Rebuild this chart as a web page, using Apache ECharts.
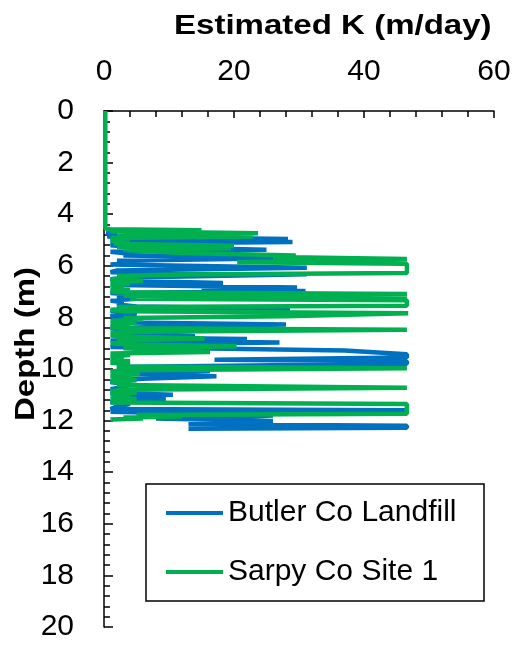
<!DOCTYPE html>
<html>
<head>
<meta charset="utf-8">
<script src="https://cdn.jsdelivr.net/npm/echarts@6/dist/echarts.min.js"></script>
<style>
  html, body { margin: 0; padding: 0; background: #fff; }
  #chart { width: 527px; height: 648px; }
</style>
</head>
<body>
<div id="chart"></div>
<script>
// values: K in m/day, depth in m
var seriesNames = ['Butler Co Landfill', 'Sarpy Co Site 1'];
var xTicks = [0, 20, 40, 60];
var yTicks = [0, 2, 4, 6, 8, 10, 12, 14, 16, 18, 20];

var butlerDepth = [4.72, 4.78, 4.86, 4.96, 5.02, 5.08, 5.14, 5.2, 5.26, 5.38, 5.46, 5.53, 5.6, 5.7,
  5.8, 5.88, 5.95, 6.08, 6.18, 6.25, 6.33, 6.45, 6.52, 6.58, 6.67, 6.74, 6.84, 6.92, 6.98, 7.05,
  7.12, 7.2, 7.28, 7.35, 7.42, 7.5, 7.58, 7.66, 7.74, 7.8, 7.88, 7.94, 8.0, 8.1, 8.2, 8.28, 8.33,
  8.42, 8.5, 8.6, 8.72, 8.78, 8.84, 8.9, 8.97, 9.04, 9.1, 9.15, 9.28, 9.43, 9.55, 9.64, 9.7, 9.8,
  9.92, 10.0, 10.08, 10.18, 10.28, 10.38, 10.44, 10.5, 10.6, 10.7, 10.78, 10.85, 10.92, 11.0,
  11.07, 11.16, 11.22, 11.28, 11.36, 11.45, 11.55, 11.6, 11.66, 11.8, 11.87, 11.92, 12.02, 12.14,
  12.2, 12.28, 12.32];
var butlerK = [0.3, 2, 0.5, 28.3, 1, 29, 3, 1, 4, 25, 1, 4, 3, 29.7,
  2, 5, 1, 31.2, 2, 1, 31.2, 4, 1, 3, 18.3, 2, 29.7, 15, 31, 1,
  4, 2, 5, 1, 3, 2, 5, 28.6, 1, 4, 5, 1, 2, 5, 4, 28, 13,
  1, 4, 3, 14, 2, 22, 1, 27, 2, 4, 1, 37, 46.6, 46.6, 17, 46.6, 46.6,
  2, 4, 16.3, 3, 17.3, 6, 2, 1, 4, 3, 1, 5, 1, 10.6,
  2, 9.5, 3, 1, 4, 2, 1, 46.3, 1, 26, 18.6, 8, 26, 13,
  46.6, 46.6, 13];

var sarpyDepth = [0, 4.55, 4.58, 4.62, 4.66, 4.74, 4.8, 4.86, 4.92, 4.97, 5.02, 5.08, 5.15, 5.22,
  5.27, 5.32, 5.38, 5.5, 5.6, 5.66, 5.74, 5.86, 5.92, 6.28, 6.34, 6.4, 6.46, 6.52, 6.58, 6.64,
  6.7, 6.76, 6.82, 6.88, 6.94, 7.0, 7.03, 7.09, 7.16, 7.22, 7.28, 7.34, 7.55, 7.6, 7.65, 7.7,
  7.76, 7.84, 7.96, 8.02, 8.08, 8.14, 8.2, 8.26, 8.32, 8.38, 8.42, 8.48, 8.56, 8.6, 8.65, 8.7,
  8.74, 8.82, 8.9, 8.95, 9.0, 9.05, 9.12, 9.2, 9.34, 9.4, 9.46, 9.52, 9.58, 9.64, 9.7, 9.76,
  9.82, 9.9, 9.97, 10.05, 10.1, 10.2, 10.26, 10.32, 10.38, 10.44, 10.5, 10.56, 10.62, 10.73,
  10.8, 10.86, 10.92, 10.98, 11.04, 11.1, 11.16, 11.22, 11.27, 11.3, 11.36, 11.73, 11.78, 11.84,
  11.88, 11.92, 11.96];
var sarpyK = [0.2, 0.2, 1, 15, 1, 23.7, 2, 23, 1, 3, 1, 4, 1.5, 20,
  2, 19.5, 3, 12, 29.5, 26, 46.6, 20.5, 46.6, 46.6, 11.5, 2, 5, 1, 6, 1,
  4, 1, 3, 1, 4, 1, 2, 46.6, 3, 46.6, 4, 46.6, 46.6, 2, 6, 1,
  3, 46.8, 28, 3, 6, 1, 5, 1, 4, 1, 4, 46.6, 5, 1, 4, 1,
  3, 15.5, 2, 5, 1, 4, 20.4, 3, 16.3, 1, 4, 1, 3, 1, 4, 1,
  4, 2, 46.6, 3, 1, 5.5, 1, 4, 1, 5, 1, 4, 2, 46.6,
  3, 1, 5, 1, 4, 1, 5, 1, 4, 1, 46.6, 46.6, 5, 12,
  3, 6, 1];

function pairs(k, d) {
  var out = [];
  for (var i = 0; i < k.length; i++) {
    out.push([k[i], d[i]]);
  }
  return out;
}

var font = "Arial, 'Liberation Sans', sans-serif";
var black = '#000';
var blue = '#0070C0';
var green = '#00B050';

var chart = echarts.init(document.getElementById('chart'), null, { renderer: 'canvas' });

var option = {
  backgroundColor: '#fff',
  animation: false,
  grid: { left: 104, right: 33, top: 111, bottom: 21, containLabel: false },
  xAxis: {
    type: 'value',
    position: 'top',
    min: xTicks[0],
    max: xTicks[xTicks.length - 1],
    interval: xTicks[1] - xTicks[0],
    axisLine: { show: true, lineStyle: { color: black, width: 1.5 } },
    axisTick: { show: true, inside: true, length: 7, lineStyle: { color: black, width: 1.5 } },
    minorTick: { show: true, splitNumber: 5, length: 6, lineStyle: { color: black, width: 1.5 } },
    axisLabel: { fontSize: 30, color: black, fontFamily: font, margin: 24 },
    splitLine: { show: false },
    minorSplitLine: { show: false }
  },
  yAxis: {
    type: 'value',
    inverse: true,
    min: yTicks[0],
    max: yTicks[yTicks.length - 1],
    interval: yTicks[1] - yTicks[0],
    axisLine: { show: true, lineStyle: { color: black, width: 1.5 } },
    axisTick: { show: true, inside: true, length: 9, lineStyle: { color: black, width: 1.5 } },
    minorTick: { show: true, splitNumber: 5, length: 6, lineStyle: { color: black, width: 1.5 } },
    axisLabel: { fontSize: 30, color: black, fontFamily: font, margin: 30 },
    splitLine: { show: false },
    minorSplitLine: { show: false }
  },
  legend: {
    orient: 'vertical',
    left: 166,
    top: 498,
    padding: 0,
    icon: 'rect',
    itemWidth: 57,
    itemHeight: 4,
    itemGap: 29,
    data: seriesNames,
    textStyle: { fontSize: 30, lineHeight: 30, color: black, fontFamily: font }
  },
  graphic: [
    {
      type: 'text',
      x: 174, y: 26,
      scaleX: 1.18,
      style: {
        text: 'Estimated K (m/day)',
        font: 'bold 28px ' + font,
        fill: black,
        align: 'left',
        verticalAlign: 'middle'
      }
    },
    {
      type: 'text',
      x: 26, y: 344,
      rotation: Math.PI / 2,
      scaleX: 1.18,
      style: {
        text: 'Depth (m)',
        font: 'bold 28px ' + font,
        fill: black,
        align: 'center',
        verticalAlign: 'middle'
      }
    },
    {
      type: 'rect',
      shape: { x: 146, y: 484, width: 338, height: 117 },
      style: { fill: null, stroke: black, lineWidth: 1.5 },
      z: 10
    }
  ],
  series: [
    {
      name: seriesNames[0],
      type: 'line',
      symbol: 'none',
      data: pairs(butlerK, butlerDepth),
      lineStyle: { color: blue, width: 4.5 },
      itemStyle: { color: blue }
    },
    {
      name: seriesNames[1],
      type: 'line',
      symbol: 'none',
      data: pairs(sarpyK, sarpyDepth),
      lineStyle: { color: green, width: 4.5 },
      itemStyle: { color: green }
    }
  ]
};

chart.setOption(option);
</script>
</body>
</html>
